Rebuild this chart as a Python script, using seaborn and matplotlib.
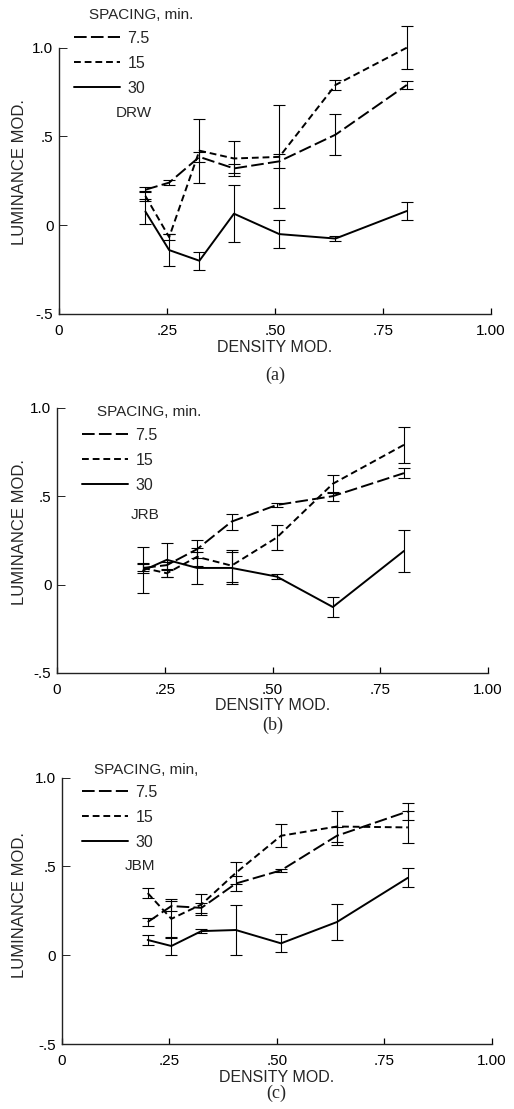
import matplotlib
matplotlib.use("Agg")
import matplotlib.pyplot as plt
import numpy as np
import pandas as pd
import seaborn as sns

# ---------------- data ----------------
density = [0.20, 0.255, 0.325, 0.405, 0.51, 0.64, 0.805]
spacing_levels = ["7.5", "15", "30"]
x_ticks = [0, 0.25, 0.50, 0.75, 1.00]
x_ticklabels = ["0", ".25", ".50", ".75", "1.00"]
y_ticks = [-0.5, 0, 0.5, 1.0]
y_ticklabels = ["-.5", "0", ".5", "1.0"]

# Panel (a) DRW
drw_75 = [0.20, 0.24, 0.385, 0.32, 0.36, 0.51, 0.79]
drw_75_err = [0.015, 0.015, 0.03, 0.025, 0.04, 0.115, 0.02]
drw_15 = [0.165, -0.067, 0.42, 0.376, 0.385, 0.79, 1.00]
drw_15_err = [0.03, 0.015, 0.18, 0.10, 0.29, 0.03, 0.12]
drw_30 = [0.077, -0.14, -0.20, 0.065, -0.05, -0.075, 0.08]
drw_30_err = [0.07, 0.09, 0.05, 0.16, 0.08, 0.015, 0.05]

# Panel (b) JRB
jrb_75 = [0.094, 0.11, 0.20, 0.356, 0.45, 0.50, 0.63]
jrb_75_err = [0.02, 0.02, 0.05, 0.045, 0.01, 0.025, 0.03]
jrb_15 = [0.094, 0.064, 0.157, 0.107, 0.266, 0.57, 0.79]
jrb_15_err = [0.03, 0.02, 0.05, 0.09, 0.07, 0.05, 0.10]
jrb_30 = [0.08, 0.14, 0.094, 0.094, 0.045, -0.127, 0.19]
jrb_30_err = [0.13, 0.095, 0.09, 0.09, 0.015, 0.055, 0.117]

# Panel (c) JBM
jbm_75 = [0.187, 0.277, 0.267, 0.404, 0.478, 0.673, 0.81]
jbm_75_err = [0.02, 0.03, 0.03, 0.045, 0.01, 0.05, 0.047]
jbm_15 = [0.35, 0.205, 0.286, 0.464, 0.673, 0.725, 0.72]
jbm_15_err = [0.03, 0.11, 0.06, 0.06, 0.065, 0.09, 0.09]
jbm_30 = [0.086, 0.052, 0.136, 0.142, 0.067, 0.187, 0.436]
jbm_30_err = [0.03, 0.05, 0.01, 0.14, 0.05, 0.10, 0.053]

panels = [
    dict(subject="DRW", tag="(a)", title="SPACING, min.",
         series=[(drw_75, drw_75_err), (drw_15, drw_15_err), (drw_30, drw_30_err)],
         rect=[59, 47.7, 491, 314],
         leg=(74, 31), title_xy=(89, 15), subj_xy=(116, 113),
         ylab_y=172, xlab_y=348, tag_y=375),
    dict(subject="JRB", tag="(b)", title="SPACING, min.",
         series=[(jrb_75, jrb_75_err), (jrb_15, jrb_15_err), (jrb_30, jrb_30_err)],
         rect=[57, 407.7, 488, 673],
         leg=(82, 428), title_xy=(97, 412), subj_xy=(131, 515),
         ylab_y=532, xlab_y=705, tag_y=725),
    dict(subject="JBM", tag="(c)", title="SPACING, min,",
         series=[(jbm_75, jbm_75_err), (jbm_15, jbm_15_err), (jbm_30, jbm_30_err)],
         rect=[61.7, 777.7, 491.7, 1044],
         leg=(82, 785), title_xy=(94, 770), subj_xy=(125, 866),
         ylab_y=905, xlab_y=1077, tag_y=1093),
]

sns.set_theme(style="white")
plt.rcParams["font.family"] = ["Liberation Sans", "DejaVu Sans"]

W, H = 514, 1109
fig = plt.figure(figsize=(W / 100, H / 100), dpi=100)

dash_map = {"7.5": (6.5, 2.2), "15": (3.5, 2.0), "30": ""}

for p in panels:
    l, t, r, b = p["rect"]
    ax = fig.add_axes([l / W, 1 - b / H, (r - l) / W, (b - t) / H])
    rows = []
    for lev, (vals, errs) in zip(spacing_levels, p["series"]):
        for xv, yv, ev in zip(density, vals, errs):
            rows.append(dict(density=xv, lum=yv, err=ev, spacing=lev))
    df = pd.DataFrame(rows)
    sns.lineplot(data=df, x="density", y="lum", style="spacing",
                 style_order=spacing_levels, dashes=dash_map,
                 color="black", lw=1.4, ax=ax, legend=True)
    for lev in spacing_levels:
        sub = df[df.spacing == lev]
        ax.errorbar(sub.density, sub.lum, yerr=sub.err, fmt="none",
                    ecolor="black", elinewidth=0.8, capsize=4.2,
                    capthick=0.8, clip_on=False)
    for ln in ax.lines:
        ln.set_clip_on(False)

    handles, labels = ax.get_legend_handles_labels()
    ax.get_legend().remove()
    hl = [(h, lab) for h, lab in zip(handles, labels) if lab in spacing_levels]
    for h, _ in hl:
        h.set_color("black")
        h.set_linewidth(1.4)
    lx, ly = p["leg"]
    ax.legend([h for h, _ in hl], [lab for _, lab in hl],
              loc="upper left",
              bbox_to_anchor=((lx - l) / (r - l), (b - ly) / (b - t)),
              frameon=False, fontsize=11.5, handlelength=2.9,
              handletextpad=0.45, labelspacing=0.62, borderpad=0,
              borderaxespad=0)

    tx, ty = p["title_xy"]
    ax.text((tx - l) / (r - l), (b - ty) / (b - t), p["title"],
            transform=ax.transAxes, ha="left", va="center", fontsize=11)
    sx, sy = p["subj_xy"]
    ax.text((sx - l) / (r - l), (b - sy) / (b - t), p["subject"],
            transform=ax.transAxes, ha="left", va="center", fontsize=11)

    ax.set_xlim(0, 1.0)
    ax.set_ylim(-0.5, 1.0)
    ax.set_xticks(x_ticks)
    ax.set_xticklabels(x_ticklabels)
    ax.set_yticks(y_ticks)
    ax.set_yticklabels(y_ticklabels)
    ax.tick_params(axis="x", bottom=True, direction="in", length=4, width=0.9,
                   pad=7, labelsize=11, colors="black")
    ax.tick_params(axis="y", left=True, direction="in", length=6, width=0.6,
                   pad=4, labelsize=11, colors="black")
    for side in ["top", "right"]:
        ax.spines[side].set_visible(False)
    for side in ["left", "bottom"]:
        ax.spines[side].set_color("#222222")
        ax.spines[side].set_linewidth(1.0)
    ax.set_facecolor("white")

    ax.set_xlabel("DENSITY MOD.", fontsize=11.5)
    ax.xaxis.set_label_coords(0.5, (b - p["xlab_y"]) / (b - t))
    ax.xaxis.label.set_va("center")
    ax.set_ylabel("LUMINANCE MOD.", fontsize=12)
    ax.yaxis.set_label_coords((20 - l) / (r - l), (b - p["ylab_y"]) / (b - t))
    ax.yaxis.label.set_va("center")

    ax.text(0.5 * (l + r) / W, 1 - p["tag_y"] / H, p["tag"],
            transform=fig.transFigure, ha="center", va="center",
            fontsize=13, family=["Liberation Serif", "DejaVu Serif"])

fig.savefig("out.png", dpi=100, facecolor="white")
